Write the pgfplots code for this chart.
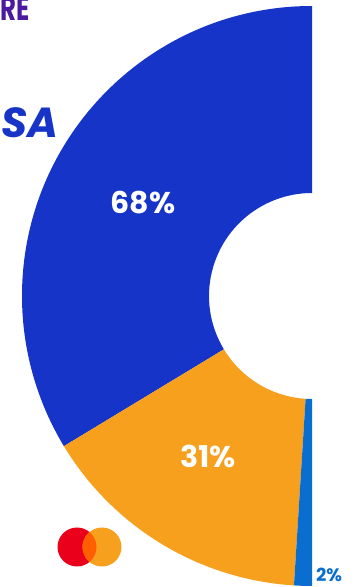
\documentclass[border=0pt]{standalone}
\usepackage{pgfplots}
\pgfplotsset{compat=1.18}
\usepackage{pgfplotstable}
\usepackage{fontspec}
\setmainfont{Poppins}
\definecolor{visablue}{HTML}{1634C8}
\definecolor{mcorange}{HTML}{F7A01E}
\definecolor{otherblue}{HTML}{0A6ED1}
\definecolor{mcred}{HTML}{EB001B}
\definecolor{mcover}{HTML}{FF5F00}
\definecolor{purp}{HTML}{4B1A9E}
\pgfplotstableread{
name value
Visa 68
Mastercard 31
Other 2
}\sharetable
\begin{document}
\begin{tikzpicture}
\pgfplotstablegetelem{0}{value}\of\sharetable \edef\vA{\pgfplotsretval}
\pgfplotstablegetelem{1}{value}\of\sharetable \edef\vB{\pgfplotsretval}
\pgfplotstablegetelem{2}{value}\of\sharetable \edef\vC{\pgfplotsretval}
\pgfmathsetmacro\tot{\vA+\vB+\vC}
\pgfmathsetmacro\aA{90}
\pgfmathsetmacro\aB{90+180*\vA/\tot}
\pgfmathsetmacro\aC{\aB+180*\vB/\tot}
\pgfmathsetmacro\aD{\aC+180*\vC/\tot}
\begin{axis}[x=1pt,y=1pt,xmin=0,xmax=356,ymin=0,ymax=587,hide axis,clip=true]
% donut slices (centre 312,291; outer 290, inner 103)
\fill[visablue] (axis cs:312,291) ++(\aA:290pt) arc[start angle=\aA, end angle=\aB, radius=290pt] -- ++(\aB:-187pt) arc[start angle=\aB, end angle=\aA, radius=103pt] -- cycle;
\fill[mcorange] (axis cs:312,291) ++(\aB:290pt) arc[start angle=\aB, end angle=\aC, radius=290pt] -- ++(\aC:-187pt) arc[start angle=\aC, end angle=\aB, radius=103pt] -- cycle;
\fill[otherblue] (axis cs:312,291) ++(\aC:290pt) arc[start angle=\aC, end angle=\aD, radius=290pt] -- ++(\aD:-187pt) arc[start angle=\aD, end angle=\aC, radius=103pt] -- cycle;
% labels
\node[text=white,font=\fontsize{30}{30}\selectfont\bfseries] at (axis cs:143,384) {68\%};
\node[text=white,font=\fontsize{30}{30}\selectfont\bfseries] at (axis cs:208,131) {31\%};
\node[text=otherblue,font=\fontsize{18}{18}\selectfont\bfseries] at (axis cs:329,12) {2\%};
% logos
\node[text=purp,font=\fontsize{34}{34}\selectfont\bfseries,anchor=base west,inner sep=0pt] at (axis cs:0.5,566) {\scalebox{0.72}[1]{RE}};
\node[text=visablue,font=\fontsize{42}{42}\selectfont\bfseries\itshape,anchor=base west,inner sep=0pt] at (axis cs:1,449) {SA};
\fill[mcred] (axis cs:77,40) circle[radius=19.5pt];
\fill[mcorange] (axis cs:102,40) circle[radius=19.5pt];
\begin{scope}
\clip (axis cs:77,40) circle[radius=19.5pt];
\fill[mcover] (axis cs:102,40) circle[radius=19.5pt];
\end{scope}
\end{axis}
\pgfresetboundingbox
\useasboundingbox (current axis.south west) rectangle (current axis.north east);
\end{tikzpicture}
\end{document}
